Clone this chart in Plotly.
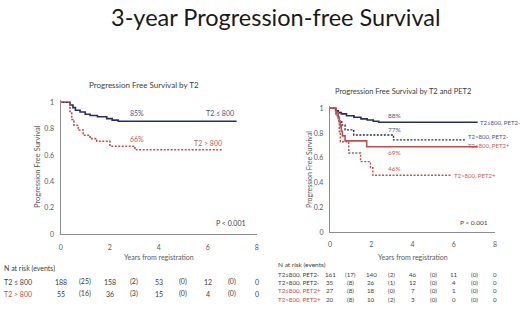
import plotly.graph_objects as go

W, H = 520, 327
FONT = "Lato"
NAVY = "#262f5f"
RED = "#c0504d"
NAVY_TXT = "#4a5687"
RED_TXT = "#c65b58"
GRAY = "#595959"
AXIS = "#8c8c8c"

# ---- data: left panel (by T2) ----
t2_le_time = [0, 0.38, 0.5, 0.6, 0.79, 1.0, 1.2, 1.5, 1.88, 2.1, 2.35, 7.18]
t2_le_surv = [1, 0.98, 0.96, 0.94, 0.926, 0.91, 0.90, 0.89, 0.876, 0.865, 0.856, 0.856]
t2_gt_time = [0, 0.38, 0.45, 0.54, 0.72, 0.92, 1.2, 1.47, 2.01, 3.03, 6.57]
t2_gt_surv = [1, 0.93, 0.87, 0.826, 0.79, 0.75, 0.725, 0.705, 0.667, 0.64, 0.64]

# ---- data: right panel (by T2 and PET2) ----
le_neg_time = [0, 0.27, 0.4, 0.55, 0.8, 1.16, 1.5, 1.8, 2.1, 2.36, 7.16]
le_neg_surv = [1, 0.98, 0.965, 0.955, 0.94, 0.928, 0.915, 0.906, 0.895, 0.887, 0.887]
gt_neg_time = [0, 0.3, 0.45, 0.57, 0.73, 1.15, 3.08, 6.6]
gt_neg_surv = [1, 0.94, 0.9, 0.865, 0.826, 0.785, 0.745, 0.745]
le_pos_time = [0, 0.3, 0.4, 0.45, 0.5, 0.55, 0.6, 0.73, 1.78, 7.16]
le_pos_surv = [1, 0.963, 0.926, 0.889, 0.852, 0.815, 0.778, 0.737, 0.69, 0.69]
gt_pos_time = [0, 0.3, 0.4, 0.45, 0.5, 0.91, 1.48, 1.96, 2.08, 5.88]
gt_pos_surv = [1, 0.95, 0.9, 0.8, 0.73, 0.64, 0.57, 0.52, 0.46, 0.46]

# ---- number-at-risk tables (counts at 0,2,4,6,8 y; events in between) ----
tbl_years = [0, 2, 4, 6, 8]
t2_le_risk = [188, 158, 53, 12, 0]
t2_le_events = [25, 2, 0, 0]
t2_gt_risk = [55, 36, 15, 4, 0]
t2_gt_events = [16, 3, 0, 0]

le_neg_risk = [161, 140, 46, 11, 0]
le_neg_events = [17, 2, 0, 0]
gt_neg_risk = [35, 26, 12, 4, 0]
gt_neg_events = [8, 1, 0, 0]
le_pos_risk = [27, 18, 7, 1, 0]
le_pos_events = [8, 0, 0, 0]
gt_pos_risk = [20, 10, 3, 0, 0]
gt_pos_events = [8, 2, 0, 0]


def X(px):
    return px / W


def Y(py):
    return 1 - py / H


fig = go.Figure()

def km(x, y, color, dash, xa, ya, width=1.6):
    fig.add_trace(go.Scatter(x=x, y=y, mode="lines", line_shape="hv",
                             line=dict(color=color, width=width, dash=dash),
                             xaxis=xa, yaxis=ya, showlegend=False,
                             hoverinfo="skip"))

DOT = "2px,1.5px"
km(t2_le_time, t2_le_surv, NAVY, "solid", "x", "y")
km(t2_gt_time, t2_gt_surv, RED, DOT, "x", "y")

km(le_neg_time, le_neg_surv, NAVY, "solid", "x2", "y2")
km(gt_neg_time, gt_neg_surv, NAVY, DOT, "x2", "y2", 1.4)
km(le_pos_time, le_pos_surv, RED, "solid", "x2", "y2")
km(gt_pos_time, gt_pos_surv, RED, DOT, "x2", "y2", 1.4)

YTOP = 1.015
l_y0, l_unit = 234.3, 132.0
r_y0, r_unit = 232.3, 124.0

axis_common = dict(showline=True, linecolor=AXIS, linewidth=1.3, showgrid=False,
                   zeroline=False, ticks="", automargin=False,
                   tickfont=dict(family=FONT, size=7, color=GRAY),
                   fixedrange=True)

fig.update_layout(
    width=W, height=H, margin=dict(l=0, r=0, t=0, b=0, autoexpand=False),
    paper_bgcolor="white", plot_bgcolor="white", showlegend=False,
    font=dict(family=FONT, color=GRAY),
    xaxis=dict(domain=[X(60.7), X(256.7)], range=[0, 8], dtick=2, anchor="y",
               ticklabelstandoff=6, **axis_common),
    yaxis=dict(domain=[Y(l_y0), Y(l_y0 - YTOP * l_unit)], range=[0, YTOP],
               tickvals=[0, 0.2, 0.4, 0.6, 0.8, 1], ticktext=["0", "0.2", "0.4", "0.6", "0.8", "1"],
               anchor="x", ticklabelstandoff=4, **axis_common),
    xaxis2=dict(domain=[X(330), X(495)], range=[0, 8], dtick=2, anchor="y2",
                ticklabelstandoff=5, **axis_common),
    yaxis2=dict(domain=[Y(r_y0), Y(r_y0 - YTOP * r_unit)], range=[0, YTOP],
                tickvals=[0, 0.2, 0.4, 0.6, 0.8, 1], ticktext=["0", "0.2", "0.4", "0.6", "0.8", "1"],
                anchor="x2", ticklabelstandoff=4, **axis_common),
)

ann = []

def txt(x, y, s, size=7, color=GRAY, xanchor="center", xref="paper", angle=0):
    ann.append(dict(x=x, y=y, xref=xref, yref="paper", text=s, showarrow=False,
                    xanchor=xanchor, yanchor="middle", textangle=angle, borderpad=0,
                    font=dict(family=FONT, size=size, color=color)))

# main title
txt(X(276), Y(17), "3-year Progression-free Survival", size=23.5, color="#1a1a1a")

# panel titles
txt(X(144), Y(85), "Progression Free Survival by T2", size=8, color="#404040")
txt(X(403), Y(91), "Progression Free Survival by T2 and PET2", size=7.5, color="#404040")

# y axis titles
txt(X(37), Y(167), "Progression Free Survival", size=7.5, angle=-90)
txt(X(309), Y(170), "Progression Free Survival", size=7, angle=-90)

# x axis titles
txt(X(158.7), Y(257), "Years from registration", size=7)
txt(X(412.5), Y(256.7), "Years from registration", size=7)

# left curve labels
txt(X(137), Y(113.3), "85%", color=NAVY_TXT)
txt(X(220), Y(113.3), "T2 ≤ 800", color=NAVY_TXT)
txt(X(137), Y(139.3), "66%", color=RED_TXT)
txt(X(208), Y(143.3), "T2 > 800", color=RED_TXT)
txt(X(231), Y(223.3), "P < 0.001", color="#404040")

# right curve labels
txt(X(394), Y(115.5), "88%", size=6.5, color=NAVY_TXT)
txt(X(394), Y(129.5), "77%", size=6.5, color=NAVY_TXT)
txt(X(394), Y(152.5), "69%", size=6.5, color=RED_TXT)
txt(X(394), Y(168.3), "46%", size=6.5, color=RED_TXT)
txt(X(479), Y(122.7), "T2≤800, PET2-", size=6, color=NAVY_TXT, xanchor="left")
txt(X(467), Y(136.7), "T2>800, PET2-", size=6, color=NAVY_TXT, xanchor="left")
txt(X(467), Y(145.7), "T2≤800, PET2+", size=6, color=RED_TXT, xanchor="left")
txt(X(453), Y(175), "T2>800, PET2+", size=6, color=RED_TXT, xanchor="left")
txt(X(473.7), Y(222.3), "P < 0.001", size=6.5, color="#404040")

# risk tables
def table_row(py, label, risk, events, lab_x, xref, color, size):
    txt(X(lab_x), Y(py), label, size=size, color=color, xanchor="left")
    for yr, n in zip(tbl_years, risk):
        txt(yr, Y(py), str(n), size=size, color="#404040", xref=xref)
    for i, e in enumerate(events):
        mid = (tbl_years[i] + tbl_years[i + 1]) / 2
        txt(mid, Y(py), f"({e})", size=size, color="#404040", xref=xref)

txt(X(2.7), Y(268.5), "N at risk (events)", size=7, color="#404040", xanchor="left")
table_row(281.5, "T2 ≤ 800", t2_le_risk, t2_le_events, 2.7, "x", "#404040", 7)
table_row(293.5, "T2 > 800", t2_gt_risk, t2_gt_events, 2.7, "x", RED, 7)

txt(X(277.3), Y(264.3), "N at risk (events)", size=6.5, color="#404040", xanchor="left")
table_row(274, "T2≤800, PET2-", le_neg_risk, le_neg_events, 277.3, "x2", "#404040", 6.2)
table_row(282.4, "T2>800, PET2-", gt_neg_risk, gt_neg_events, 277.3, "x2", "#404040", 6.2)
table_row(290.8, "T2≤800, PET2+", le_pos_risk, le_pos_events, 277.3, "x2", RED, 6.2)
table_row(299.2, "T2>800, PET2+", gt_pos_risk, gt_pos_events, 277.3, "x2", RED, 6.2)

fig.update_layout(annotations=ann)
fig.write_html("out.html", config={"displayModeBar": False},
               post_script="document.body.style.margin='0';document.body.style.overflow='hidden';")
